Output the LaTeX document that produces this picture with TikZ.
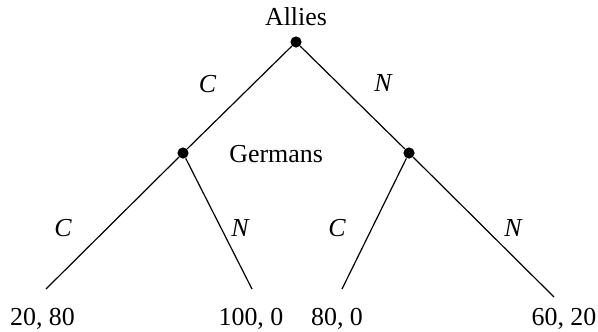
\documentclass[tikz,border=0pt]{standalone}
\usepackage{fontspec}
\setmainfont{Liberation Serif}
\begin{document}
\begin{tikzpicture}[x=0.5bp,y=-0.5bp,
  dot/.style={circle,fill=black,inner sep=0pt,minimum size=5.6bp},
  branch/.style={line width=0.6bp,black},
  lbl/.style={inner sep=0pt,font=\fontsize{13}{15}\selectfont},
  move/.style={lbl,font=\fontsize{13}{15}\selectfont\itshape}]
\useasboundingbox (0,0) rectangle (598,331);
% decision nodes
\node[dot] (root) at (296,42) {};
\node[dot] (gl) at (183,153) {};
\node[dot] (gr) at (409,153) {};
% leaf end points
\coordinate (ll) at (46,289);
\coordinate (lr) at (252,289);
\coordinate (rl) at (342,289);
\coordinate (rr) at (554,297);
% branches
\draw[branch] (root) -- (gl);
\draw[branch] (root) -- (gr);
\draw[branch] (gl) -- (ll);
\draw[branch] (gl) -- (lr);
\draw[branch] (gr) -- (rl);
\draw[branch] (gr) -- (rr);
% players
\node[lbl,anchor=base] (allies) at (296,25) {Allies};
\node[lbl,anchor=base west] (germans) at (229,162) {Germans};
% moves
\node[move] (mc) at (207.5,84.5) {C};
\node[move] (mn) at (383,83.5) {N};
\node[move] (mlc) at (63,228.5) {C};
\node[move] (mln) at (240,228.5) {N};
\node[move] (mrc) at (337,228.5) {C};
\node[move] (mrn) at (513,228.5) {N};
% payoffs
\node[lbl,anchor=base] (p1) at (42.5,325) {20, 80};
\node[lbl,anchor=base] (p2) at (251,325) {100, 0};
\node[lbl,anchor=base] (p3) at (337,325) {80, 0};
\node[lbl,anchor=base] (p4) at (564,325) {60, 20};
\end{tikzpicture}
\end{document}
